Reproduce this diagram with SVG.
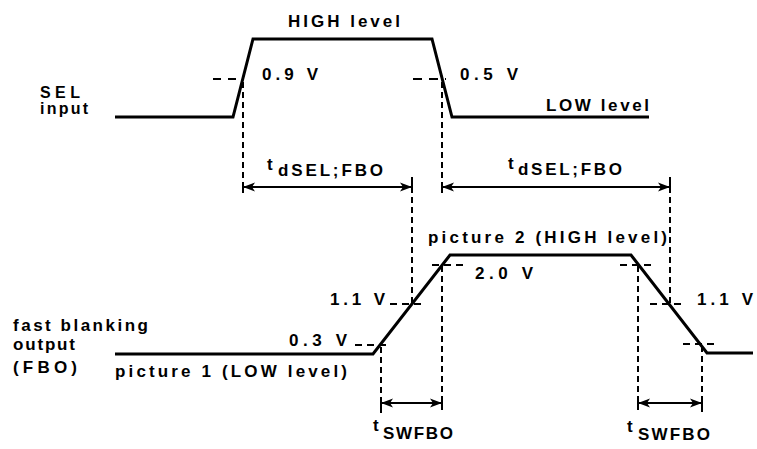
<svg xmlns="http://www.w3.org/2000/svg" width="757" height="449" viewBox="0 0 757 449">
<style>
.wave{fill:none;stroke:#000;stroke-width:3;stroke-linejoin:miter}
.dash{fill:none;stroke:#000;stroke-width:2;stroke-dasharray:7,5}
.vd{fill:none;stroke:#000;stroke-width:2;stroke-dasharray:6,4}
.arr{fill:none;stroke:#000;stroke-width:2;marker-start:url(#ah);marker-end:url(#ah)}
text{font-family:"Liberation Sans",Arial,sans-serif;font-weight:bold;font-size:17px;fill:#000}
</style>
<defs>
<marker id="ah" viewBox="0 0 14 10" refX="13" refY="5" markerWidth="14" markerHeight="10" markerUnits="userSpaceOnUse" orient="auto-start-reverse">
<path d="M1,0.5 L13,5 L1,9.5 L4,5 z" fill="#000"/>
<path d="M13,0 L13,10" stroke="#000" stroke-width="2"/>
</marker>
</defs>
<g id="sel-signal">
<polyline class="wave" points="115,117 233,117 253,39 432,39 452,117 649,117"/>
<text x="288" y="27" textLength="112" lengthAdjust="spacing">HIGH level</text>
<text x="546" y="111" textLength="103" lengthAdjust="spacing">LOW level</text>
<text x="40" y="98" textLength="40" lengthAdjust="spacing" style="font-size:16px">SEL</text>
<text x="40" y="114" textLength="48" lengthAdjust="spacing" style="font-size:16px">input</text>
</g>
<g id="sel-thresholds">
<line class="dash" x1="213" y1="79" x2="240" y2="79" style="stroke-dasharray:8,7"/>
<text x="262" y="80" textLength="56" lengthAdjust="spacing">0.9 V</text>
<line class="dash" x1="413" y1="79" x2="446" y2="79" style="stroke-dasharray:9,7"/>
<text x="460" y="80" textLength="58" lengthAdjust="spacing">0.5 V</text>
</g>
<g id="fbo-signal">
<polyline class="wave" points="115,354 373,354 450,255 631,255 707,353 753,353"/>
<text x="13" y="331" textLength="135" lengthAdjust="spacing">fast blanking</text>
<text x="13" y="350" textLength="62" lengthAdjust="spacing">output</text>
<text x="13" y="373" textLength="64" lengthAdjust="spacing">(FBO)</text>
<text x="115" y="377" textLength="232" lengthAdjust="spacing">picture 1 (LOW level)</text>
<text x="428" y="243" textLength="239" lengthAdjust="spacing">picture 2 (HIGH level)</text>
</g>
<g id="fbo-thresholds">
<line class="dash" x1="355" y1="345" x2="387" y2="345"/>
<text x="289" y="346" textLength="58" lengthAdjust="spacing">0.3 V</text>
<line class="dash" x1="390" y1="304" x2="425" y2="304"/>
<text x="330" y="305" textLength="55" lengthAdjust="spacing">1.1 V</text>
<line class="dash" x1="432" y1="265" x2="467" y2="265"/>
<text x="475" y="279" textLength="58" lengthAdjust="spacing">2.0 V</text>
<line class="dash" x1="620" y1="265" x2="654" y2="265"/>
<line class="dash" x1="650" y1="304" x2="684" y2="304"/>
<text x="697" y="305" textLength="56" lengthAdjust="spacing">1.1 V</text>
<line class="dash" x1="683" y1="344" x2="718" y2="344"/>
</g>
<g id="connectors">
<line class="vd" x1="243" y1="82" x2="243" y2="193"/>
<line class="vd" x1="442" y1="82" x2="442" y2="193"/>
<line class="vd" x1="412" y1="177" x2="412" y2="306"/>
<line class="vd" x1="670" y1="177" x2="670" y2="306"/>
<line class="vd" x1="381" y1="347" x2="381" y2="414"/>
<line class="vd" x1="442" y1="266" x2="442" y2="410"/>
<line class="vd" x1="638" y1="266" x2="638" y2="410"/>
<line class="vd" x1="702" y1="346" x2="702" y2="414"/>
<line class="arr" x1="243" y1="187" x2="412" y2="187"/>
<line class="arr" x1="442" y1="187" x2="670" y2="187"/>
<line class="arr" x1="381" y1="403" x2="442" y2="403"/>
<line class="arr" x1="638" y1="403" x2="702" y2="403"/>
</g>
<g id="timing-labels">
<text x="267" y="170">t</text>
<text x="278" y="176" textLength="105" lengthAdjust="spacing">dSEL;FBO</text>
<text x="508" y="169">t</text>
<text x="518" y="175" textLength="104" lengthAdjust="spacing">dSEL;FBO</text>
<text x="373" y="431">t</text>
<text x="383" y="439" textLength="70" lengthAdjust="spacing">SWFBO</text>
<text x="627" y="432">t</text>
<text x="638" y="440" textLength="72" lengthAdjust="spacing">SWFBO</text>
</g>
</svg>
